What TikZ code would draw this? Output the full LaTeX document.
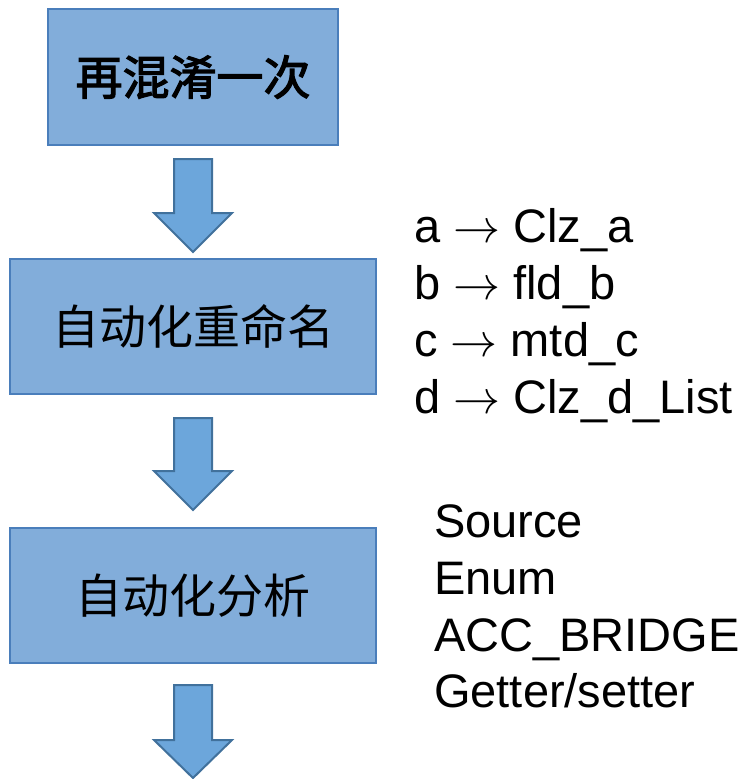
\RequirePackage{fix-cm}
\documentclass[tikz,border=0pt]{standalone}
\usepackage{fontspec}
\setmainfont{Liberation Sans}
\newfontfamily\cjk{Noto Sans CJK SC}
\newfontfamily\cjkb[FakeBold=2.5]{Noto Sans CJK SC}
\definecolor{boxfill}{RGB}{130,173,218}
\definecolor{boxline}{RGB}{74,126,187}
\definecolor{arrfill}{RGB}{108,166,219}
\definecolor{arrline}{RGB}{65,113,156}
\tikzset{
  stepbox/.style={draw=boxline, fill=boxfill, line width=2pt, inner sep=0pt, font=\cjk\fontsize{47}{50}\selectfont},
  blockarrow/.style={draw=arrline, fill=arrfill, line width=2pt, line join=miter},
  sidetext/.style={anchor=base west, inner sep=0pt, align=left, font=\fontsize{47}{57}\selectfont}
}
\begin{document}
\begin{tikzpicture}[x=1pt,y=-1pt]
\useasboundingbox (0,0) rectangle (748,779);
\node[stepbox, minimum width=290pt, minimum height=136pt] (b1) at (193,77) {\cjkb 再混淆一次};
\node[stepbox, minimum width=366pt, minimum height=135pt] (b2) at (193,326.5) {自动化重命名};
\node[stepbox, minimum width=366pt, minimum height=135pt] (b3) at (193,595.5) {自动化分析};
% block arrows
\draw[blockarrow] (174,159) -- (212,159) -- (212,213) -- (232,213) -- (193,252) -- (154,213) -- (174,213) -- cycle;
\draw[blockarrow] (174,418) -- (212,418) -- (212,471) -- (232,471) -- (193,510) -- (154,471) -- (174,471) -- cycle;
\draw[blockarrow] (174,685) -- (212,685) -- (212,740) -- (232,740) -- (193,778) -- (154,740) -- (174,740) -- cycle;
% side texts
\node[sidetext] (r1) at (414,242) {a $\rightarrow$ Clz\_a};
\node[sidetext] (r2) at (414,299) {b $\rightarrow$ fld\_b};
\node[sidetext] (r3) at (414,356) {c $\rightarrow$ mtd\_c};
\node[sidetext] (r4) at (414,413) {d $\rightarrow$ Clz\_d\_List};
\node[sidetext] (s1) at (434,537) {Source};
\node[sidetext] (s2) at (434,594) {Enum};
\node[sidetext] (s3) at (434,651) {ACC\_BRIDGE};
\node[sidetext] (s4) at (434,707) {Getter/setter};
\end{tikzpicture}
\end{document}
